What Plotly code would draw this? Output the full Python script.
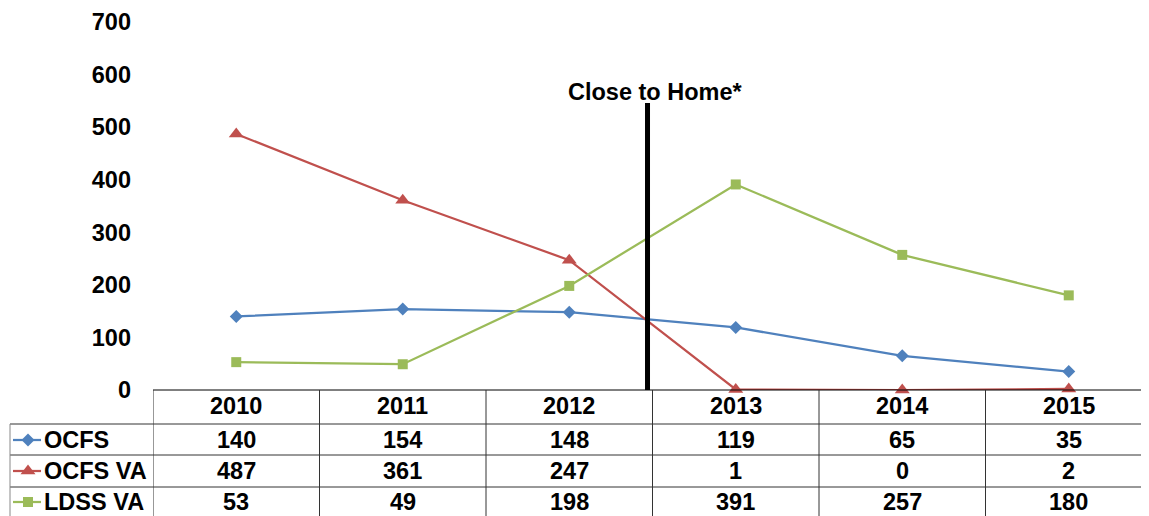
import plotly.graph_objects as go

years = ["2010", "2011", "2012", "2013", "2014", "2015"]
ocfs = [140, 154, 148, 119, 65, 35]
ocfs_va = [487, 361, 247, 1, 0, 2]
ldss_va = [53, 49, 198, 391, 257, 180]

series_names = ["OCFS", "OCFS VA", "LDSS VA"]
series_values = [ocfs, ocfs_va, ldss_va]
colors = ["#4F81BD", "#C0504D", "#9BBB59"]
symbols = ["diamond", "triangle-up", "square"]
sizes = [10, 13, 10]

W, H = 1149, 516
OFF = 8  # page body margin, positions below are given in screen pixels
FONT = dict(family="Liberation Sans, Arial, sans-serif", size=23.5, color="black", weight="bold")


def px(x):
    return (x - OFF) / W


def py(y):
    return (H - (y - OFF)) / H


fig = go.Figure()

xs = list(range(len(years)))
for name, vals, c, s, sz in zip(series_names, series_values, colors, symbols, sizes):
    fig.add_trace(go.Scatter(
        x=xs, y=vals, name=name, mode="lines+markers",
        line=dict(color=c, width=2.25),
        marker=dict(symbol=s, size=sz, color=c),
        cliponaxis=False, showlegend=False,
    ))

# table layout (screen pixels)
header_y = 406
row_centers = [440, 471, 502]
row_lines = [424, 455, 487]

shapes = []
annotations = []

# axis line / table top
shapes.append(dict(type="line", xref="paper", yref="paper", x0=px(153), x1=px(1160), y0=py(390), y1=py(390),
                   line=dict(color="black", width=1)))
for yl in row_lines:
    shapes.append(dict(type="line", xref="paper", yref="paper", x0=px(10), x1=px(1160), y0=py(yl), y1=py(yl),
                       line=dict(color="#333333", width=1)))
# left border of legend column
shapes.append(dict(type="line", xref="paper", yref="paper", x0=px(10), x1=px(10), y0=py(424), y1=py(530),
                   line=dict(color="#888888", width=1)))
# column separators
for i in range(len(years)):
    shapes.append(dict(type="line", xref="x", yref="paper", x0=i - 0.5, x1=i - 0.5, y0=py(390), y1=py(530),
                       line=dict(color="#333333", width=1)))

# header years
for i, yr in enumerate(years):
    annotations.append(dict(x=i, y=py(header_y), xref="x", yref="paper", text=yr, showarrow=False,
                            font=FONT, xanchor="center", yanchor="middle"))
# values + row labels
for r, (name, vals) in enumerate(zip(series_names, series_values)):
    for i, v in enumerate(vals):
        annotations.append(dict(x=i, y=py(row_centers[r]), xref="x", yref="paper", text=str(v),
                                showarrow=False, font=FONT, xanchor="center", yanchor="middle"))
    annotations.append(dict(x=px(42), y=py(row_centers[r]), xref="paper", yref="paper", text=name,
                            showarrow=False, font=FONT, xanchor="left", yanchor="middle"))
    # legend key
    fig.add_trace(go.Scatter(
        x=[13 - OFF, 41 - OFF], y=[row_centers[r] - OFF] * 2, xaxis="x2", yaxis="y2",
        mode="lines", line=dict(color=colors[r], width=2.25), showlegend=False, hoverinfo="skip",
    ))
    fig.add_trace(go.Scatter(
        x=[28 - OFF], y=[row_centers[r] - OFF], xaxis="x2", yaxis="y2", mode="markers",
        marker=dict(symbol=symbols[r], size=sizes[r], color=colors[r]), showlegend=False, hoverinfo="skip",
    ))

# Close to Home marker
shapes.append(dict(type="line", xref="x", yref="y", x0=2.47, x1=2.47, y0=0, y1=546,
                   line=dict(color="black", width=5)))
annotations.append(dict(x=2.515, y=567, xref="x", yref="y", text="Close to Home*", showarrow=False,
                        font=FONT, xanchor="center", yanchor="middle"))

fig.update_layout(
    width=W, height=H,
    margin=dict(l=0, r=0, t=0, b=0),
    paper_bgcolor="white", plot_bgcolor="rgba(0,0,0,0)",
    shapes=shapes, annotations=annotations,
    xaxis=dict(domain=[px(153), px(1152)], range=[-0.5, 5.5], showticklabels=False, showgrid=False,
               zeroline=False, showline=False, ticks="", automargin=False),
    yaxis=dict(domain=[py(390), py(22)], range=[0, 700], dtick=100, showgrid=False, zeroline=False,
               showline=False, ticks="", tickfont=FONT, ticklabelstandoff=21, automargin=False),
    xaxis2=dict(domain=[0, 1], range=[0, W], visible=False, anchor="y2", automargin=False),
    yaxis2=dict(domain=[0, 1], range=[H, 0], visible=False, anchor="x2", automargin=False),
)

fig.write_html("out.html")
